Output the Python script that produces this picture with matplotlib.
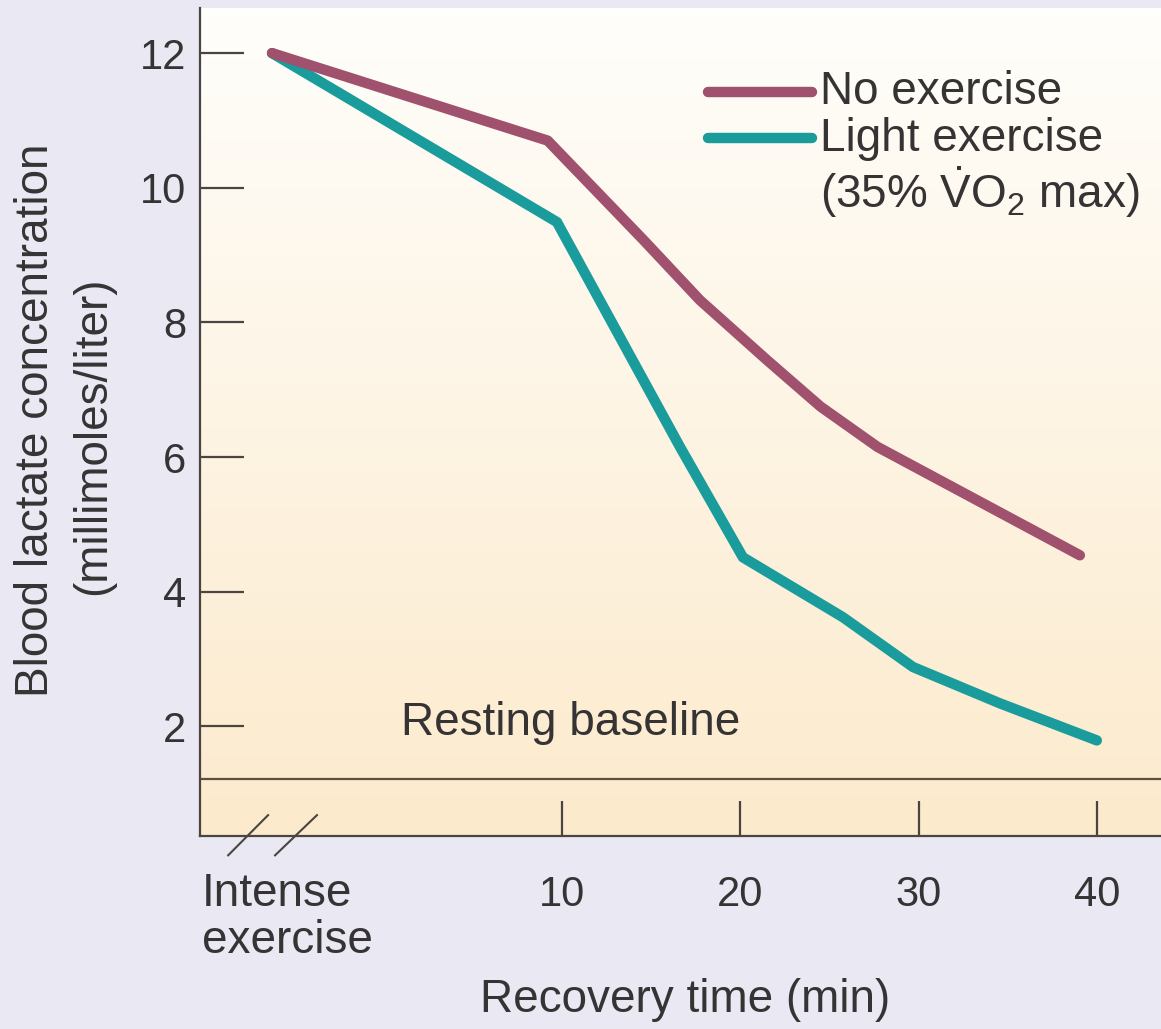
import numpy as np
import matplotlib
matplotlib.use("Agg")
import matplotlib.pyplot as plt
from matplotlib.lines import Line2D

# ---- data ----
no_ex_time = [-6.26, 9.2, 14.55, 17.74, 21.5, 24.5, 27.7, 39.05]
no_ex_lact = [12.0, 10.7, 9.23, 8.33, 7.44, 6.75, 6.15, 4.54]
light_time = [-6.26, 9.72, 16.62, 20.15, 25.76, 29.69, 34.57, 40.0]
light_lact = [12.0, 9.49, 6.15, 4.51, 3.62, 2.88, 2.34, 1.79]
baseline_value = 1.21
x_ticks = [10, 20, 30, 40]
x_tick_labels = ["10", "20", "30", "40"]
y_ticks = [2, 4, 6, 8, 10, 12]
y_tick_labels = ["2", "4", "6", "8", "10", "12"]
series_labels = ["No exercise", "Light exercise"]

FONT = ["Liberation Sans", "DejaVu Sans"]
plt.rcParams['font.family'] = FONT
plt.rcParams['mathtext.fontset'] = 'custom'
plt.rcParams['mathtext.rm'] = 'Liberation Sans'
plt.rcParams['mathtext.it'] = 'Liberation Sans:italic'

TXT = "#353333"
MAUVE = "#a0516d"
TEAL = "#1a9c9c"
FS = 33
TFS = 30

W, H = 1161, 1029
fig = plt.figure(figsize=(W / 100, H / 100), dpi=100)
fig.patch.set_facecolor("#e9e8f3")

ax = fig.add_axes([200 / W, 1 - 836 / H, 1 - 200 / W, (836 - 8) / H])
xmin, xmax = -10.3, 43.6
ymin, ymax = 0.37, 12.67

# gradient background inside axes (row 0 = top)
grad = np.linspace(0, 1, 256).reshape(-1, 1)
top = np.array([1.0, 0.997, 0.985])
bot = np.array([0.988, 0.918, 0.80])
img = top[None, None, :] * (1 - grad[:, :, None]) + bot[None, None, :] * grad[:, :, None]
ax.imshow(img, extent=[xmin, xmax, ymin, ymax], aspect='auto', zorder=0, origin='upper')
ax.set_xlim(xmin, xmax)
ax.set_ylim(ymin, ymax)

# spines
for s in ["top", "right"]:
    ax.spines[s].set_visible(False)
for s in ["left", "bottom"]:
    ax.spines[s].set_color("#4a4540")
    ax.spines[s].set_linewidth(1.6)

ax.set_yticks(y_ticks)
ax.set_yticklabels(y_tick_labels)
ax.set_xticks(x_ticks)
ax.set_xticklabels(x_tick_labels)
ax.tick_params(axis='y', direction='in', length=32, width=1.6, color="#4a4540",
               labelsize=TFS, labelcolor=TXT, pad=10)
ax.tick_params(axis='x', direction='in', length=25, width=1.6, color="#4a4540",
               labelsize=TFS, labelcolor=TXT, pad=28)

# baseline
ax.axhline(baseline_value, color="#5a5040", lw=1.6, zorder=2)
ax.text(1.0, 1.87, "Resting baseline", fontsize=FS, color=TXT, ha='left', va='baseline')

# data lines
ax.plot(no_ex_time, no_ex_lact, color=MAUVE, lw=7.5, solid_capstyle='round',
        solid_joinstyle='round', zorder=4)
ax.plot(light_time, light_lact, color=TEAL, lw=7.5, solid_capstyle='round',
        solid_joinstyle='round', zorder=3)

# axis break marks
for x0, x1 in [(-8.72, -6.48), (-6.09, -3.74)]:
    ax.plot([x0, x1], [0.083, 0.68], color="#4a4540", lw=1.5, clip_on=False, zorder=5)

# "Intense exercise" label
fig.text(202 / W, 1 - 872 / H, "Intense\nexercise", fontsize=FS, color=TXT,
         ha='left', va='top', linespacing=1.1)

# axis labels
fig.text(685 / W, 1 - 1000 / H, "Recovery time (min)", fontsize=FS, color=TXT,
         ha='center', va='center')
fig.text(36 / W, 1 - 420 / H, "Blood lactate concentration", fontsize=FS, color=TXT,
         rotation=90, ha='center', va='center')
fig.text(93 / W, 1 - 436 / H, "(millimoles/liter)", fontsize=FS, color=TXT,
         rotation=90, ha='center', va='center')

# manual legend
for yy, col in [(92, MAUVE), (138, TEAL)]:
    fig.add_artist(Line2D([708 / W, 812 / W], [1 - yy / H, 1 - yy / H], color=col,
                          lw=7.5, solid_capstyle='round'))
fig.text(820 / W, 1 - 92 / H, series_labels[0], fontsize=FS, color=TXT, ha='left', va='center')
fig.text(820 / W, 1 - 139 / H, series_labels[1], fontsize=FS, color=TXT, ha='left', va='center')
fig.text(820 / W, 1 - 192 / H, r"(35% $\dot{\mathrm{V}}\mathrm{O}_2$ max)", fontsize=FS,
         color=TXT, ha='left', va='center')

fig.savefig("out.png", dpi=100, facecolor=fig.get_facecolor())
